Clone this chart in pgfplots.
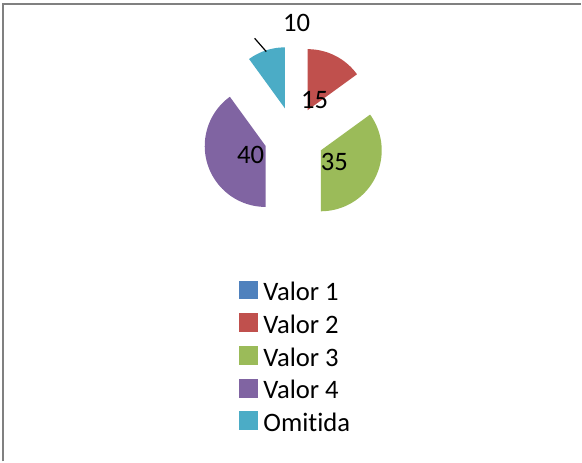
\documentclass[border=0pt]{standalone}
\usepackage{pgfplots}
\pgfplotsset{compat=1.18}
\usepackage{pgfplotstable}
\usepackage{fontspec}
\setmainfont{Carlito}[Ligatures=NoCommon]
\definecolor{cA}{HTML}{4F81BD}
\definecolor{cB}{HTML}{C0504D}
\definecolor{cC}{HTML}{9BBB59}
\definecolor{cD}{HTML}{8064A2}
\definecolor{cE}{HTML}{4BACC6}
\definecolor{frame}{HTML}{808080}

\pgfplotstableread{
name value
V1 0
V2 15
V3 35
V4 40
Om 10
}\piedata

\newcommand\slice[3]{%
  \pgfmathsetmacro\mm{(#2+#3)/2}%
  \pgfmathsetmacro\ox{294.6+30*cos(\mm)}%
  \pgfmathsetmacro\oy{325+30*sin(\mm)}%
  \edef\doit{\noexpand\addplot[forget plot, fill=#1, draw=none, domain=#3:#2, samples=80, variable=\noexpand\t] ({\ox+61*cos(\noexpand\t)},{\oy+61*sin(\noexpand\t)}) -- (axis cs:\ox,\oy) -- cycle;}%
  \doit}

\begin{document}
\begin{tikzpicture}
\pgfplotstablegetelem{0}{value}\of\piedata \edef\vA{\pgfplotsretval}
\pgfplotstablegetelem{1}{value}\of\piedata \edef\vB{\pgfplotsretval}
\pgfplotstablegetelem{2}{value}\of\piedata \edef\vC{\pgfplotsretval}
\pgfplotstablegetelem{3}{value}\of\piedata \edef\vD{\pgfplotsretval}
\pgfplotstablegetelem{4}{value}\of\piedata \edef\vE{\pgfplotsretval}
\pgfmathsetmacro\sB{90-3.6*\vA}
\pgfmathsetmacro\eB{\sB-3.6*\vB}
\pgfmathsetmacro\eC{\eB-3.6*\vC}
\pgfmathsetmacro\eD{\eC-3.6*\vD}
\pgfmathsetmacro\eE{\eD-3.6*\vE}
\begin{axis}[
  width=436.5pt, height=346.5pt, scale only axis,
  xmin=0, xmax=582, ymin=0, ymax=462,
  hide axis, clip=false,
  legend image code/.code={\fill[#1] (0pt,-5.3pt) rectangle (13.5pt,8.2pt);},
  legend style={at={(axis cs:239,181.3)}, anchor=north west, draw=none, fill=none,
    font=\fontsize{20}{20}\selectfont, inner sep=0pt, row sep=9.4pt,
    nodes={inner sep=0pt, text height=13.5pt, text depth=0pt},
    /tikz/every odd column/.append style={column sep=4.5pt}},
  legend cell align=left,
]
\path (axis cs:0,0) rectangle (axis cs:582,462);
\draw[frame, line width=1.4pt] (axis cs:3,0) -- (axis cs:3,458) -- (axis cs:582,458);
\slice{cB}{\sB}{\eB}
\slice{cC}{\eB}{\eC}
\slice{cD}{\eC}{\eD}
\slice{cE}{\eD}{\eE}
\draw[black, line width=0.9pt] (axis cs:255,423.7) -- (axis cs:266.7,410.3);
\node[font=\fontsize{20}{20}\selectfont] at (axis cs:297,439) {\vE};
\node[font=\fontsize{20}{20}\selectfont] at (axis cs:315,362) {\vB};
\node[font=\fontsize{20}{20}\selectfont] at (axis cs:335,300) {\vC};
\node[font=\fontsize{20}{20}\selectfont] at (axis cs:251,307) {\vD};
\addlegendimage{cA}\addlegendentry{Valor 1}
\addlegendimage{cB}\addlegendentry{Valor 2}
\addlegendimage{cC}\addlegendentry{Valor 3}
\addlegendimage{cD}\addlegendentry{Valor 4}
\addlegendimage{cE}\addlegendentry{Omitida}
\end{axis}
\end{tikzpicture}
\end{document}
